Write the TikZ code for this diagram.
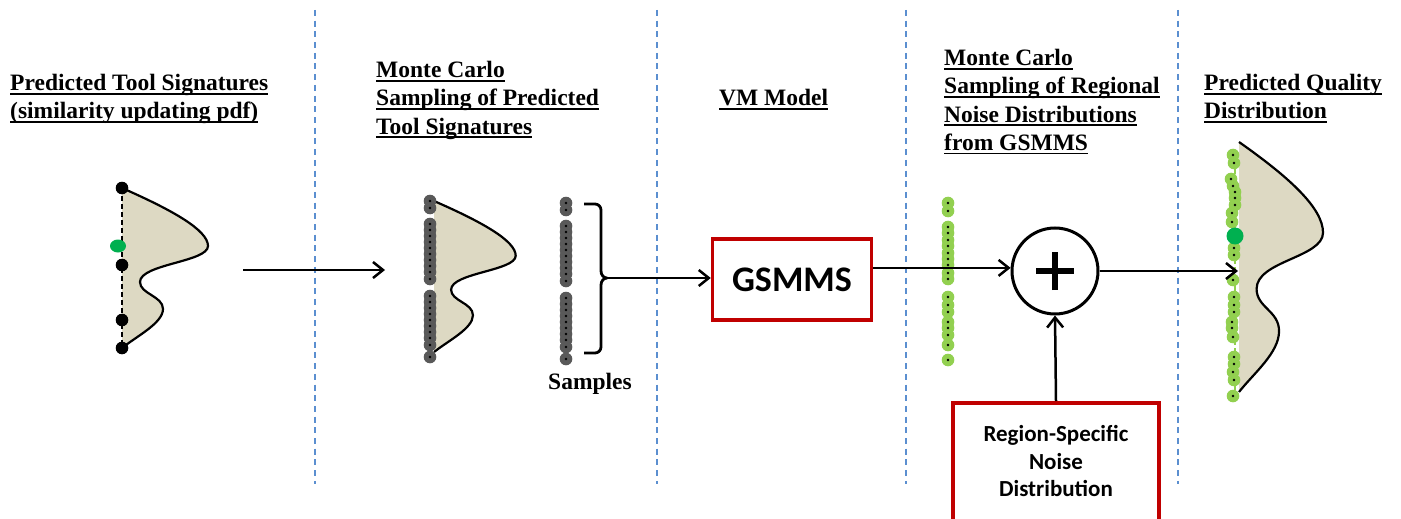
\documentclass[tikz,border=0pt]{standalone}
\usepackage{fontspec}
\setmainfont{Liberation Serif}
\newfontfamily\ttlfont{Liberation Serif}
\newfontfamily\boxfont{Carlito}
\usetikzlibrary{arrows.meta}

\definecolor{pdftan}{HTML}{DDD9C3}
\definecolor{dotgray}{HTML}{595959}
\definecolor{dotgreen}{HTML}{92D050}
\definecolor{meangreen}{HTML}{00B050}
\definecolor{boxred}{HTML}{C00000}
\definecolor{divblue}{HTML}{5B8FD0}

% thick underline for the stage headings
\newcommand\ulx[1]{\setbox0\hbox{#1}\rlap{\rule[-4pt]{\wd0}{1.8pt}}\box0}

\tikzset{
  divider/.style={divblue, line width=1.3pt, dash pattern=on 6pt off 4.7pt},
  ttl/.style={font=\ttlfont\bfseries\fontsize{23.5}{28.3}\selectfont, align=left, inner sep=0pt, anchor=north west},
  arr/.style={line width=2.5pt, -{Straight Barb[length=10pt,width=16pt,line width=2.5pt]}},
  redbox/.style={draw=boxred, line width=3.5pt, fill=white},
  pdfedge/.style={line width=2.2pt},
  pdfshape/.pic={
    \fill[pdftan] (0,0) .. controls (50,22) and (86,42) .. (86,58)
      .. controls (86,74) and (18,76) .. (18,94)
      .. controls (18,106) and (41,108) .. (41,121)
      .. controls (41,135) and (15,148) .. (0,160) -- cycle;
    \draw[pdfedge] (0,0) .. controls (50,22) and (86,42) .. (86,58)
      .. controls (86,74) and (18,76) .. (18,94)
      .. controls (18,106) and (41,108) .. (41,121)
      .. controls (41,135) and (15,148) .. (0,160);
  }
}

% a column of Monte Carlo samples: coloured discs first, then their centres
\newcommand\sampcol[2]{%
  \foreach \xx/\yy in {#2} {\fill[#1] (\xx,\yy) circle (6.3pt);}
  \foreach \xx/\yy in {#2} {\fill[black] (\xx,\yy) circle (1.4pt);}}

\begin{document}
\begin{tikzpicture}[x=1pt,y=-1pt]
\clip (0,0) rectangle (1401,519);
\fill[white] (0,0) rectangle (1401,519);

% stage dividers
\foreach \xx in {315,657,906,1178}
  \draw[divider] (\xx,10) -- (\xx,484);

% stage headings
\node[ttl] (t1) at (10,74) {\ulx{Predicted Tool Signatures}\\\ulx{(similarity updating pdf)}};
\node[ttl] (t2) at (376,61) {\ulx{Monte Carlo}\\\ulx{Sampling of Predicted}\\\ulx{Tool Signatures}};
\node[ttl] (t3) at (719,89) {\ulx{VM Model}};
\node[ttl] (t4) at (944,49) {\ulx{Monte Carlo}\\\ulx{Sampling of Regional}\\\ulx{Noise Distributions}\\\ulx{from GSMMS}};
\node[ttl] (t5) at (1204,74) {\ulx{Predicted Quality}\\\ulx{Distribution}};

% predicted tool signature pdf
\pic at (122,188) {pdfshape};
\draw[line width=1.2pt, dash pattern=on 5pt off 3pt] (122,188) -- (122,348);
\foreach \yy in {188,265,320,348}
  \fill[black] (122,\yy) circle (6.3pt);
\fill[meangreen] (118,246) ellipse (8pt and 6.5pt);

% arrow to sampling stage
\coordinate (a0) at (243,270);
\coordinate (a1) at (385,270);
\draw[arr] (a0) -- (a1);

% sampled pdf
\pic[xscale=0.95, yscale=0.944] at (434,201) {pdfshape};
\sampcol{dotgray}{430/201,430/208,430/224,430/230,430/236,430/242,430/248,430/254,430/260,430/266,430/272,430/279,430/296,430/302,430/308,430/314,430/320,430/326,430/332,430/338,430/345,430/357}

% drawn samples with bracket
\sampcol{dotgray}{566/203,566/210,566/226,566/232,566/238,566/244,566/250,566/256,566/262,566/268,566/274,566/281,566/298,566/304,566/310,566/316,566/322,566/328,566/334,566/340,566/347,566/359}
\coordinate (brk) at (607,278);
\draw[line width=2.8pt, line join=round]
  (584,204) -- (595,204) to[out=0,in=90] (601,210) -- (601,271) to[out=-90,in=180] (brk)
  to[out=180,in=90] (601,285) -- (601,347) to[out=-90,in=0] (595,353) -- (584,353);
\node[font=\ttlfont\bfseries\fontsize{23.5}{28}\selectfont, anchor=base, inner sep=0pt] (samples) at (590,389) {Samples};

% VM model
\node[redbox, minimum width=159pt, minimum height=81pt, inner sep=0pt,
      font=\boxfont\bfseries\fontsize{36}{40}\selectfont] (gsmms) at (792,279.5) {GSMMS};
\draw[arr] (brk) -- (brk -| gsmms.west);

% noise samples
\sampcol{dotgreen}{948/203,948/211,948/227,948/233,948/240,948/246,948/253,948/259,948/265,948/273,948/279,948/297,948/305,948/312,948/322,948/328,948/335,948/345,948/360}

% summation
\node[draw, circle, line width=3pt, minimum size=86pt, inner sep=0pt] (plus) at (1055,271) {};
\draw[line width=5.5pt] ([xshift=-19pt]plus.center) -- ([xshift=19pt]plus.center);
\draw[line width=5.5pt] ([yshift=-19pt]plus.center) -- ([yshift=19pt]plus.center);
\draw[arr] (plus.176 -| gsmms.east) -- (plus.176);

\node[redbox, anchor=north, inner xsep=8pt, inner ysep=8pt] (noise) at (1056,401)
  {\parbox[c][123pt][t]{190pt}{\centering\boxfont\bfseries\fontsize{23}{27.5}\selectfont
   \vspace*{15pt}Region-Specific\\Noise\\Distribution}};
\draw[arr] (noise.north) -- (plus.south);

% predicted quality distribution
\pic[xscale=0.977, yscale=1.5625] at (1239,142) {pdfshape};
\draw[dotgreen, line width=1.5pt, dash pattern=on 6pt off 3pt] (1235,150) -- (1235,400);
\sampcol{dotgreen}{1233/155,1234/163,1231/179,1233/186,1235/192,1235/198,1235/205,1232/213,1232/222,1234/248,1234/255,1233/280,1234/297,1234/305,1234/312,1232/322,1232/328,1233/337,1234/357,1234/364,1233/372,1234/380,1233/396}
\fill[meangreen] (1235,236) circle (8.5pt);

\coordinate (qend) at (1238,271);
\draw[arr] (plus.east) -- (qend);
\end{tikzpicture}
\end{document}
